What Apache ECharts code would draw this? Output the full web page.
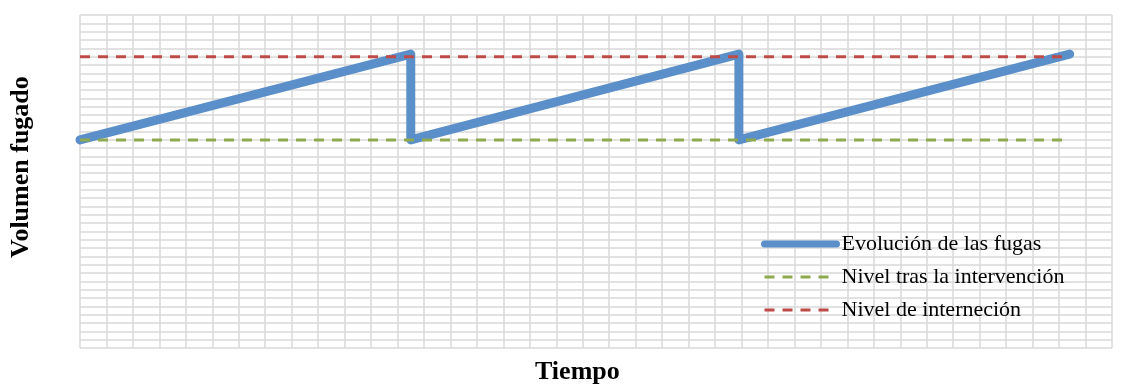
<!DOCTYPE html>
<html>
<head>
<meta charset="utf-8">
<script src="https://cdn.jsdelivr.net/npm/echarts@6/dist/echarts.min.js"></script>
<style>
  html, body { margin: 0; padding: 0; background: #ffffff; }
  #chart { width: 1125px; height: 385px; }
</style>
</head>
<body>
<div id="chart"></div>
<script>
// Sawtooth of leaked volume over time, with the intervention threshold
// and the level reached after each intervention.
const seriesNames = ['Evolución de las fugas', 'Nivel tras la intervención', 'Nivel de interneción'];
const leakTime   = [0, 12.5, 12.5, 24.9, 24.9, 37.4];
const leakVolume = [25, 35.3, 25, 35.3, 25, 35.3];
const levelTime  = [0, 37.4];
const afterLevel = [25, 25];
const triggerLevel = [35, 35];
const xTitle = 'Tiempo';
const yTitle = 'Volumen fugado';

const zip = (xs, ys) => xs.map((x, i) => [x, ys[i]]);

const gridLine = { show: true, lineStyle: { color: '#d9d9d9', width: 1.5 } };
const serif = '"Liberation Serif", "DejaVu Serif", serif';

const BLUE = '#5b8fc9', GREEN = '#8fa94f', RED = '#be4b48';
const dash = [10, 8];

const chart = echarts.init(document.getElementById('chart'));
chart.setOption({
  animation: false,
  grid: { left: 80, right: 13, top: 15, bottom: 37 },
  xAxis: {
    type: 'value', min: 0, max: 39, interval: 1,
    axisLabel: { show: false }, axisTick: { show: false },
    axisLine: { show: false }, splitLine: gridLine
  },
  yAxis: {
    type: 'value', min: 0, max: 40, interval: 1,
    axisLabel: { show: false }, axisTick: { show: false },
    axisLine: { show: false }, splitLine: gridLine
  },
  legend: {
    orient: 'vertical', left: 756, top: 228,
    itemWidth: 72, itemHeight: 14, itemGap: 11,
    itemStyle: { opacity: 0 },
    textStyle: { fontFamily: serif, fontSize: 22, color: '#000000' },
    data: [
      { name: seriesNames[0], lineStyle: { width: 7, cap: 'round', color: BLUE } },
      { name: seriesNames[1], lineStyle: { width: 3, type: dash, color: GREEN } },
      { name: seriesNames[2], lineStyle: { width: 3, type: dash, color: RED } }
    ]
  },
  graphic: [
    {
      type: 'text', x: 535, y: 359,
      style: { text: xTitle, font: 'bold 26px ' + serif, fill: '#000000' }
    },
    {
      type: 'text', x: 8, y: 258, rotation: Math.PI / 2,
      style: { text: yTitle, font: 'bold 26px ' + serif, fill: '#000000' }
    }
  ],
  series: [
    {
      name: seriesNames[0], type: 'line', symbol: 'none', z: 2,
      data: zip(leakTime, leakVolume),
      lineStyle: { color: BLUE, width: 9, cap: 'round', join: 'round' },
      itemStyle: { color: BLUE }
    },
    {
      name: seriesNames[1], type: 'line', symbol: 'none', z: 3,
      data: zip(levelTime, afterLevel),
      lineStyle: { color: GREEN, width: 3, type: dash },
      itemStyle: { color: GREEN }
    },
    {
      name: seriesNames[2], type: 'line', symbol: 'none', z: 3,
      data: zip(levelTime, triggerLevel),
      lineStyle: { color: RED, width: 3, type: dash },
      itemStyle: { color: RED }
    }
  ]
});
</script>
</body>
</html>
